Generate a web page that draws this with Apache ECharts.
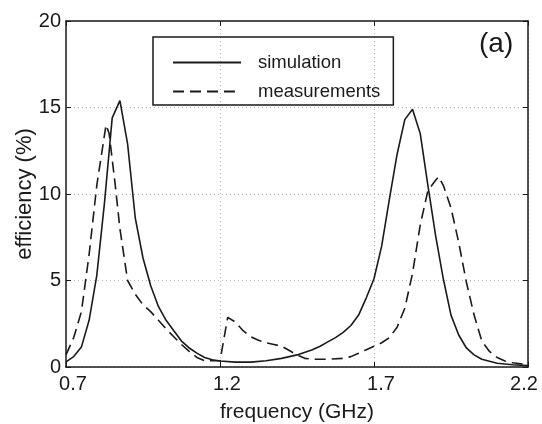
<!DOCTYPE html>
<html>
<head>
<meta charset="utf-8">
<script src="https://cdn.jsdelivr.net/npm/echarts@6/dist/echarts.min.js"></script>
<style>
  html, body { margin: 0; padding: 0; background: #fff; }
  #chart { width: 542px; height: 424px; }
</style>
</head>
<body>
<div id="chart"></div>
<script>
// frequency (GHz) / efficiency (%)
const simFreq = [0.70, 0.725, 0.75, 0.775, 0.80, 0.825, 0.85, 0.875, 0.90, 0.925, 0.95, 0.975, 1.00,
  1.025, 1.05, 1.075, 1.10, 1.125, 1.15, 1.175, 1.20, 1.25, 1.30, 1.35, 1.40, 1.45, 1.50, 1.525,
  1.55, 1.575, 1.60, 1.625, 1.65, 1.675, 1.70, 1.725, 1.75, 1.775, 1.80, 1.825, 1.85, 1.875, 1.90,
  1.925, 1.95, 1.975, 2.00, 2.025, 2.05, 2.10, 2.15, 2.20];
const simEff = [0.3, 0.6, 1.15, 2.7, 5.3, 9.5, 14.4, 15.4, 12.9, 8.6, 6.3, 4.7, 3.5,
  2.7, 2.1, 1.5, 1.1, 0.8, 0.55, 0.42, 0.35, 0.28, 0.28, 0.36, 0.5, 0.7, 1.0, 1.2,
  1.45, 1.7, 2.0, 2.4, 3.0, 4.0, 5.1, 7.0, 9.7, 12.3, 14.3, 14.9, 13.5, 10.5, 7.6,
  5.1, 3.0, 1.85, 1.1, 0.7, 0.45, 0.22, 0.13, 0.08];

const measFreq = [0.70, 0.725, 0.75, 0.775, 0.80, 0.83, 0.84, 0.86, 0.875, 0.90, 0.925, 0.95, 0.975,
  1.00, 1.025, 1.05, 1.075, 1.10, 1.125, 1.15, 1.20, 1.225, 1.25, 1.275, 1.30, 1.325, 1.35, 1.375,
  1.40, 1.425, 1.45, 1.475, 1.50, 1.55, 1.60, 1.625, 1.65, 1.675, 1.70, 1.725, 1.75, 1.775, 1.80,
  1.825, 1.85, 1.875, 1.90, 1.91, 1.925, 1.95, 1.975, 2.00, 2.025, 2.05, 2.075, 2.10, 2.125, 2.15, 2.20];
const measEff = [0.7, 1.7, 3.2, 6.5, 10.5, 14.0, 13.5, 10.5, 8.0, 5.0, 4.2, 3.6, 3.2,
  2.7, 2.2, 1.75, 1.3, 0.9, 0.55, 0.36, 0.36, 2.87, 2.6, 2.1, 1.75, 1.55, 1.4, 1.3,
  1.2, 0.95, 0.7, 0.5, 0.45, 0.45, 0.5, 0.6, 0.8, 1.0, 1.2, 1.4, 1.7, 2.3, 3.4,
  5.4, 8.2, 10.2, 10.8, 11.0, 10.5, 9.2, 7.2, 4.9, 3.0, 1.5, 0.9, 0.55, 0.35, 0.25, 0.13];

const xTicks = [0.7, 1.2, 1.7, 2.2];
const yTicks = [0, 5, 10, 15, 20];

const ink = "#1a1a1a";
const font = "'Liberation Sans', Arial, sans-serif";

const pairs = (xs, ys) => xs.map((x, i) => [x, ys[i]]);

const chart = echarts.init(document.getElementById("chart"));

const frame = {
  axisLine: { show: true, onZero: false, lineStyle: { color: ink, width: 1.5 } },
  axisTick: { show: true, inside: true, length: 5, lineStyle: { color: ink } },
};
const dotted = { show: true, lineStyle: { color: "#b5b5b5", type: [1, 3], width: 1 } };

chart.setOption({
  animation: false,
  backgroundColor: "#fff",
  textStyle: { fontFamily: font },
  grid: { left: 66, right: 14, top: 21, bottom: 57, outerBoundsMode: "none" },
  legend: {
    orient: "vertical",
    left: 153,
    top: 37,
    padding: [16, 13, 4, 19],
    itemWidth: 68,
    itemHeight: 18,
    itemGap: 10,
    borderColor: ink,
    borderWidth: 1.5,
    itemStyle: { opacity: 0 },
    textStyle: { fontFamily: font, fontSize: 18.5, color: ink, padding: [0, 0, 0, 12] },
    data: ["simulation", "measurements"],
  },
  graphic: [
    {
      type: "text",
      left: 479,
      top: 30,
      style: { text: "(a)", fontFamily: font, fontSize: 28, fill: ink },
    },
  ],
  xAxis: [
    {
      type: "value",
      position: "bottom",
      min: xTicks[0],
      max: xTicks[xTicks.length - 1],
      interval: 0.5,
      ...frame,
      splitLine: dotted,
      axisLabel: {
        color: ink,
        fontSize: 20,
        margin: 7,
        fontFamily: font,
        formatter: (v) => (v > 2.19 ? "{r|" : "{l|") + v.toFixed(1) + "}",
        rich: {
          l: { fontSize: 20, fontFamily: font, color: ink, padding: [0, 0, 0, 14] },
          r: { fontSize: 20, fontFamily: font, color: ink, padding: [0, 8, 0, 0] },
        },
      },
      name: "frequency (GHz)",
      nameLocation: "middle",
      nameGap: 35,
      nameMoveOverlap: false,
      nameTextStyle: { color: ink, fontSize: 21, fontFamily: font },
    },
    {
      type: "value",
      position: "top",
      min: xTicks[0],
      max: xTicks[xTicks.length - 1],
      interval: 0.5,
      ...frame,
      splitLine: { show: false },
      axisLabel: { show: false },
    },
  ],
  yAxis: [
    {
      type: "value",
      position: "left",
      min: yTicks[0],
      max: yTicks[yTicks.length - 1],
      interval: 5,
      ...frame,
      splitLine: dotted,
      axisLabel: { color: ink, fontSize: 20, margin: 5, fontFamily: font },
      name: "efficiency (%)",
      nameLocation: "middle",
      nameGap: 30,
      nameMoveOverlap: false,
      nameTextStyle: { color: ink, fontSize: 22, fontFamily: font },
    },
    {
      type: "value",
      position: "right",
      min: yTicks[0],
      max: yTicks[yTicks.length - 1],
      interval: 5,
      ...frame,
      splitLine: { show: false },
      axisLabel: { show: false },
    },
  ],
  series: [
    {
      name: "simulation",
      type: "line",
      data: pairs(simFreq, simEff),
      symbol: "none",
      lineStyle: { color: ink, width: 1.6 },
      itemStyle: { color: ink },
    },
    {
      name: "measurements",
      type: "line",
      data: pairs(measFreq, measEff),
      symbol: "none",
      lineStyle: { color: ink, width: 1.6, type: [11, 6] },
      itemStyle: { color: ink },
    },
  ],
});
</script>
</body>
</html>
